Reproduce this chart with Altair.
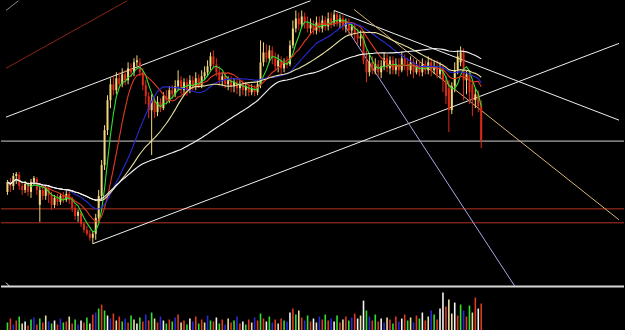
import altair as alt
import pandas as pd

# ---- candle data (price units) ----
open_ = [108,117,114,124,125,114,110,116,108,118,
         121,95,110,104,112,105,95,102,98,104,
         100,106,100,92,84,87,76,70,66,62,
         66,82,104,135,170,200,216,210,222,216,
         226,220,232,228,238,238,228,215,204,190,
         200,188,198,192,204,200,210,206,214,220,
         210,218,210,220,214,222,215,224,228,234,
         244,236,228,220,224,216,220,214,218,212,
         216,210,214,208,212,208,216,238,248,242,
         250,242,234,240,232,238,236,255,272,282,
         276,284,278,272,276,270,278,272,280,274,
         282,278,286,278,282,274,278,270,274,266,
         262,264,240,228,238,230,236,228,234,242,
         232,240,230,236,230,242,236,230,238,228,
         234,228,236,230,238,230,234,226,232,220,
         212,190,214,230,238,248,220,226,216,200,
         206,194]
close = [118,114,124,126,114,110,116,108,118,122,
         110,110,104,112,105,95,102,98,104,100,
         106,100,92,84,88,76,70,66,62,66,
         82,104,135,170,200,216,210,222,216,226,
         220,232,228,238,240,228,215,204,190,200,
         188,198,192,204,200,210,206,214,220,210,
         218,210,220,214,222,215,224,228,234,244,
         236,228,220,224,216,220,214,218,212,216,
         210,214,208,212,208,216,238,248,242,250,
         242,234,240,232,238,236,255,272,282,276,
         284,278,272,276,270,278,272,280,274,282,
         278,286,278,282,274,278,270,274,266,262,
         264,240,228,238,230,236,228,234,242,232,
         240,230,236,230,242,236,230,238,228,234,
         228,236,230,238,230,234,226,232,220,204,
         190,214,230,244,248,220,226,208,200,206,
         194,160]
high = [120,122,127,128,128,117,119,118,121,124,
        123,114,113,115,115,108,105,106,107,108,
        110,109,103,95,90,89,78,74,70,68,
        86,110,140,175,205,222,224,228,228,232,
        230,238,237,242,245,242,232,220,208,206,
        203,204,202,208,210,214,215,220,230,224,
        222,222,225,224,228,226,230,234,240,248,
        250,242,234,228,228,224,224,222,222,220,
        220,218,216,216,215,220,260,258,256,255,
        254,248,246,244,242,244,260,280,290,288,
        290,288,284,282,280,284,284,285,284,288,
        288,290,288,286,285,282,282,278,278,272,
        270,268,250,246,244,242,240,240,248,246,
        244,244,242,242,248,246,242,244,242,240,
        240,242,240,244,242,240,240,238,236,224,
        220,218,238,250,254,252,230,230,220,212,
        210,200]
low = [105,108,110,116,110,105,107,104,102,115,
       105,78,100,100,97,90,92,94,95,97,
       98,96,88,80,78,73,67,64,59,56,
       60,78,100,130,165,192,205,206,212,213,
       215,216,223,224,234,224,210,196,182,145,
       182,184,188,190,196,197,202,203,210,206,
       205,204,207,210,210,212,212,220,224,230,
       232,224,216,214,212,210,208,208,206,204,
       205,204,204,205,204,205,212,234,238,238,
       236,230,228,226,228,232,234,252,268,270,
       272,272,268,266,266,266,268,268,270,270,
       272,274,274,272,270,268,266,264,260,256,
       254,236,218,224,226,226,224,222,230,228,
       226,226,226,224,228,230,224,226,222,226,
       224,224,226,226,224,226,222,222,208,196,
       168,186,208,226,234,200,206,196,184,192,
       188,152]
volume = [8,12,6,10,14,7,9,5,11,13,
          6,12,8,15,9,7,10,6,12,8,
          9,14,7,11,6,10,8,13,7,16,
          18,22,26,20,15,12,17,10,14,9,
          12,8,15,11,7,13,9,16,10,18,
          12,8,14,10,7,11,9,13,16,8,
          10,6,12,9,14,7,11,8,15,10,
          9,13,7,11,6,12,8,10,14,7,
          9,6,11,8,13,10,17,12,9,14,
          8,11,7,12,10,9,18,22,16,20,
          13,10,15,9,12,8,14,11,16,10,
          12,9,15,8,11,14,10,13,17,12,
          15,30,20,14,10,16,9,12,8,13,
          11,7,14,9,12,16,10,13,8,15,
          12,18,10,14,20,16,11,22,38,24,
          31,17,28,15,26,20,14,25,18,33,
          22,27]
vol_groups = ["rbmbrpgbrm", "brbpmrgbmr", "bpbrmgbrpb", "mrbrgmbpbr",
              "mbrpgrbmbr", "pbmgrbrmbp", "brgmbrbpmr", "bgrbmpbrmb",
              "grbpmbrbgr", "mbpbrmgbrp", "bmrbgpmbrb", "mgrbpbrmbg",
              "pgrmbrbgmp", "brbmgbrpmb", "rgbpmrbggb", "ppgbrmbrpb", "gb"]
vol_kind = list("".join(vol_groups))

# ---- drawn lines (bar index, price) ----
trend_lines = {
    "red_top":   [(-0.5, 232), (40.83, 300)],
    "grey_top":  [(-0.5, 290), (3.83, 300)],
    "upper":     [(-0.5, 183), (103.17, 300)],
    "lower":     [(29.0, 56), (207.83, 257)],
    "down":      [(111.0, 290), (207.83, 180)],
    "lavender":  [(113.5, 280), (172.5, 13)],
    "tan":       [(117.8, 291), (207.83, 80)],
    "corner":    [(-0.5, 17), (0.83, 13)],
}
line_style = {
    "red_top": "#8e2414", "grey_top": "#8a8a8a", "upper": "#f0f0f0",
    "lower": "#f0f0f0", "down": "#f0f0f0", "lavender": "#a8a8e8",
    "tan": "#d8b478", "corner": "#e0e0e0",
}
h_levels = {"white": 159, "red1": 91, "red2": 77}
h_style = {"white": "#d0d0d0", "red1": "#b83222", "red2": "#b83222"}

ma_names = ["MA5", "MA10", "MA20", "MA30", "MA60"]
ma_colors = ["#30e030", "#e03a20", "#2a2ad8", "#e8e0a0", "#f4f4f4"]

n = len(close)
df = pd.DataFrame({"i": list(range(n)), "open": open_, "close": close,
                   "high": high, "low": low, "vol": volume, "vk": vol_kind})

XS = alt.Scale(domain=[-0.5, 207.83], nice=False, zero=False)
YS = alt.Scale(domain=[13, 300], nice=False, zero=False)
W = 625

base = alt.Chart(df)
up_cond = alt.condition("datum.close >= datum.open", alt.value("#f2d77a"), alt.value("#e02a18"))

layers = []
for k, p in h_levels.items():
    layers.append(alt.Chart(pd.DataFrame({"p": [p]})).mark_rule(
        color=h_style[k], strokeWidth=1).encode(y=alt.Y("p:Q", scale=YS, axis=None)))

for k, pts in trend_lines.items():
    tdf = pd.DataFrame({"x": [pts[0][0], pts[1][0]], "p": [pts[0][1], pts[1][1]]})
    layers.append(alt.Chart(tdf).mark_line(color=line_style[k], strokeWidth=1, clip=True).encode(
        x=alt.X("x:Q", scale=XS, axis=None), y=alt.Y("p:Q", scale=YS, axis=None)))

wick = base.mark_rule(strokeWidth=1).encode(
    x=alt.X("i:Q", scale=XS, axis=None), y=alt.Y("low:Q", scale=YS, axis=None),
    y2="high:Q", color=up_cond)
body = base.mark_bar(size=2).encode(
    x=alt.X("i:Q", scale=XS, axis=None), y=alt.Y("open:Q", scale=YS, axis=None),
    y2="close:Q", color=up_cond)

ma = (base
      .transform_window(MA5="mean(close)", frame=[-4, 0], sort=[alt.SortField("i")])
      .transform_window(MA10="mean(close)", frame=[-9, 0], sort=[alt.SortField("i")])
      .transform_window(MA20="mean(close)", frame=[-19, 0], sort=[alt.SortField("i")])
      .transform_window(MA30="mean(close)", frame=[-29, 0], sort=[alt.SortField("i")])
      .transform_window(MA60="mean(close)", frame=[-59, 0], sort=[alt.SortField("i")])
      .transform_fold(ma_names, as_=["ma", "val"])
      .mark_line(strokeWidth=1.1)
      .encode(x=alt.X("i:Q", scale=XS, axis=None),
              y=alt.Y("val:Q", scale=YS, axis=None),
              color=alt.Color("ma:N", scale=alt.Scale(domain=ma_names, range=ma_colors), legend=None),
              detail="ma:N"))

sep = alt.Chart(pd.DataFrame({"p": [13]})).mark_rule(color="#d8d8d8", strokeWidth=2).encode(
    y=alt.Y("p:Q", scale=YS, axis=None))

price = alt.layer(*layers, wick, body, ma, sep).properties(width=W, height=287)

vol = base.mark_bar(size=1.6).encode(
    x=alt.X("i:Q", scale=XS, axis=None),
    y=alt.Y("vol:Q", scale=alt.Scale(domain=[0, 43], nice=False), axis=None),
    color=alt.Color("vk:N", scale=alt.Scale(domain=list("rbmpg"),
                    range=["#d82828", "#3838f0", "#c838c8", "#8848d8", "#28a848"]), legend=None),
).properties(width=W, height=43)

chart = (alt.vconcat(price, vol, spacing=0)
         .properties(background="black", padding=0)
         .configure_view(stroke=None)
         .configure_concat(spacing=0))

chart.save("out.html", embed_options={"renderer": "svg", "actions": False})
